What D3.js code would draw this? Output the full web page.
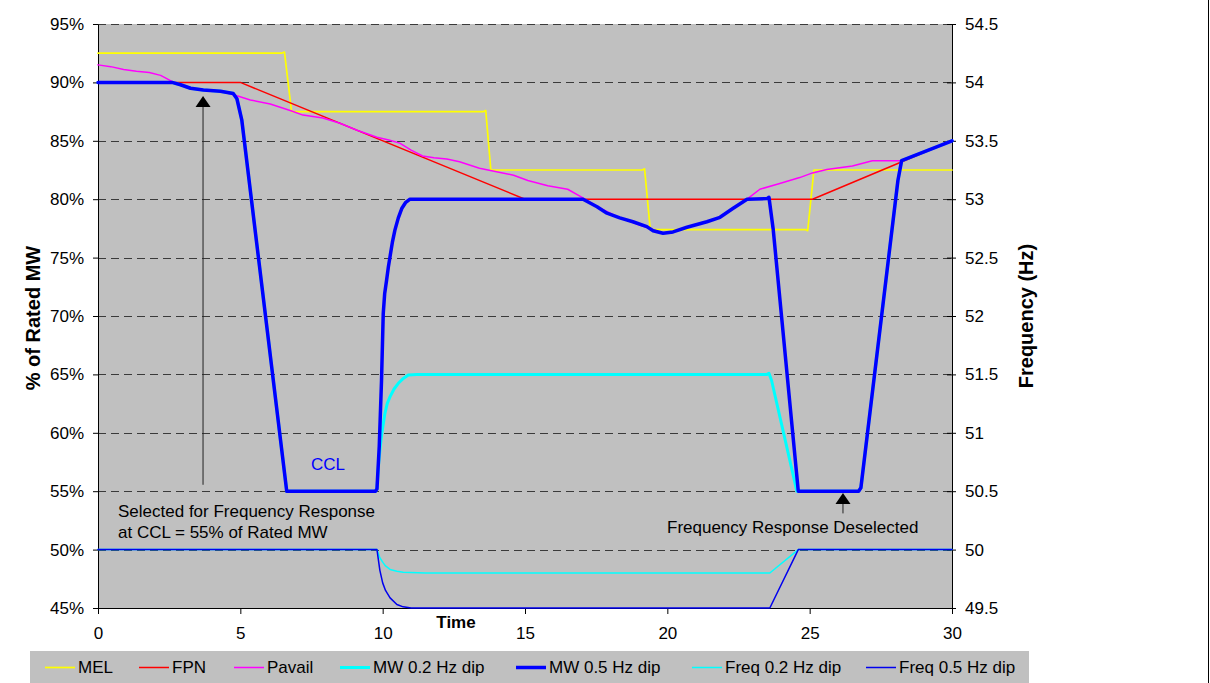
<!DOCTYPE html>
<html>
<head>
<meta charset="utf-8">
<script src="https://cdn.jsdelivr.net/npm/d3@7"></script>
<style>
  html, body { margin: 0; padding: 0; background: #fff; }
  svg { display: block; font-family: "Liberation Sans", Arial, sans-serif; }
</style>
</head>
<body>
<svg id="chart" width="1210" height="683"></svg>
<script>
// ---- data: [time, value] pairs ----
const MEL = [[0,92.5],[6.45,92.5],[6.55,92.6],[6.8,87.5],[13.55,87.5],[13.62,87.6],[13.8,82.5],
  [19.12,82.5],[19.2,82.6],[19.4,77.4],[24.85,77.4],[24.93,77.3],[25.15,82.5],[30,82.5]];

const FPN = [[0,90],[5,90],[15,80],[25.1,80],[30,85]];

const Pavail = [[0,91.5],[0.45,91.35],[0.9,91.1],[1.35,90.95],[1.8,90.85],[2.2,90.6],[2.63,90.05],
  [3.2,89.5],[3.7,89.35],[4.3,89.25],[4.88,88.85],[5.35,88.5],[6.05,88.15],[6.75,87.6],[7.2,87.2],
  [7.9,86.95],[8.5,86.5],[9.1,85.9],[9.8,85.3],[10.25,85.05],[10.6,84.8],[11.0,84.2],[11.4,83.7],
  [11.8,83.55],[12.25,83.45],[12.7,83.2],[13.4,82.65],[14.0,82.35],[14.6,82.05],[15.1,81.6],
  [15.8,81.15],[16.5,80.85],[17.05,80.1],[17.5,79.4],[18.3,78.45],[19.0,77.8],[19.85,77.1],
  [20.2,77.2],[20.7,77.6],[21.4,78.05],[21.85,78.45],[22.3,79.2],[22.8,80],[23.25,80.85],
  [23.95,81.35],[24.65,81.85],[25.1,82.25],[25.6,82.55],[26.5,82.85],[27.2,83.3],[28.2,83.3],[30,85]];

const MW02 = [[0,90],[2.6,90],[2.9,89.8],[3.25,89.5],[3.7,89.35],[4.3,89.25],[4.75,89.05],
  [4.88,88.6],[5.05,86.8],[6.63,55],[9.75,55],[9.8,55.2],[9.86,57.4],[9.92,58.9],[9.97,59.96],
  [10.08,61.67],[10.16,62.5],[10.26,63.1],[10.4,63.75],[10.55,64.24],[10.7,64.6],[10.9,64.95],
  [11.2,65],[23.5,65],[23.57,65.1],[23.66,64.5],[24.55,55],[26.72,55],[26.8,55.3],[28.1,81.6],
  [28.23,83.3],[30,85]];

const MW05 = [[0,90],[2.6,90],[2.9,89.8],[3.25,89.5],[3.7,89.35],[4.3,89.25],[4.75,89.05],
  [4.88,88.6],[5.05,86.8],[6.63,55],[9.75,55],[9.8,55.2],[9.88,58.85],[9.96,64.5],[10.02,70.2],
  [10.07,71.9],[10.14,73.1],[10.2,74.2],[10.26,75.1],[10.34,76.3],[10.43,77.35],[10.55,78.4],
  [10.67,79.2],[10.8,79.7],[10.96,80],[17.04,80],[17.53,79.35],[17.88,78.8],[18.33,78.4],
  [18.79,78.07],[19.28,77.65],[19.5,77.3],[19.85,77.08],[20.2,77.2],[20.69,77.6],[21.39,78.07],
  [21.85,78.45],[22.3,79.2],[22.8,80],[23.5,80.05],[23.57,80.16],[23.72,77.4],[24.6,55],
  [26.72,55],[26.8,55.3],[28.1,81.6],[28.23,83.3],[30,85]];

// frequency series, Hz (right axis)
const Freq02 = [[0,50],[9.8,50],[9.9,49.93],[10.02,49.886],[10.1,49.86],[10.26,49.83],
  [10.5,49.815],[10.72,49.807],[11.5,49.8],[23.6,49.8],[24.6,50],[30,50]];
const Freq05 = [[0,50],[9.8,50],[9.9,49.825],[10.0,49.715],[10.1,49.65],[10.26,49.587],
  [10.5,49.53],[10.72,49.51],[11,49.5],[23.6,49.5],[24.6,50],[30,50]];

const xTicks = [0,5,10,15,20,25,30];
const pctTicks = [45,50,55,60,65,70,75,80,85,90,95];
const hzTicks = [49.5,50,50.5,51,51.5,52,52.5,53,53.5,54,54.5];

const seriesNames = ["MEL","FPN","Pavail","MW 0.2 Hz dip","MW 0.5 Hz dip","Freq 0.2 Hz dip","Freq 0.5 Hz dip"];

// ---- layout ----
const svg = d3.select("#chart");
const L = 98, R = 952, T = 24, B = 608;
const FONT = 17;

const x = d3.scaleLinear().domain([0,30]).range([L,R]);
const yL = d3.scaleLinear().domain([45,95]).range([B,T]);
const yR = d3.scaleLinear().domain([49.5,54.5]).range([B,T]);

// plot area
svg.append("rect").attr("x",L).attr("y",T).attr("width",R-L).attr("height",B-T).attr("fill","#C0C0C0");

// dashed gridlines
svg.append("g").selectAll("line").data(pctTicks.filter(d => d > 45)).join("line")
  .attr("x1",L).attr("x2",R).attr("y1",d => Math.round(yL(d))+0.5).attr("y2",d => Math.round(yL(d))+0.5)
  .attr("stroke","#3a3a3a").attr("stroke-width",1).attr("stroke-dasharray","8,5");

// axes
const gL = svg.append("g").attr("transform",`translate(${L},0)`)
  .call(d3.axisLeft(yL).tickValues(pctTicks).tickFormat(d => d + "%").tickSizeInner(5).tickSizeOuter(0).tickPadding(9));
const gR = svg.append("g").attr("transform",`translate(${R},0)`)
  .call(d3.axisRight(yR).tickValues(hzTicks).tickFormat(d => Number.isInteger(d) ? String(d) : d.toFixed(1)).tickSizeInner(4).tickSizeOuter(0).tickPadding(9));
gR.selectAll(".tick line").attr("x1",-5);
const gB = svg.append("g").attr("transform",`translate(0,${B})`)
  .call(d3.axisBottom(x).tickValues(xTicks).tickFormat(d3.format("d")).tickSizeInner(6).tickSizeOuter(0));
gB.selectAll(".tick text").attr("dy",null).attr("y",31);

[gL,gR,gB].forEach(g => {
  g.selectAll("path.domain").attr("stroke","#000").attr("stroke-width",1);
  g.selectAll(".tick line").attr("stroke","#000");
  g.selectAll("text").attr("font-size",FONT).attr("fill","#000").attr("font-family","Liberation Sans, Arial, sans-serif");
});

// axis titles
svg.append("text").attr("transform","translate(40,318) rotate(-90)").attr("text-anchor","middle")
  .attr("font-size",20).attr("font-weight","bold").text("% of Rated MW");
svg.append("text").attr("transform","translate(1033,316) rotate(-90)").attr("text-anchor","middle")
  .attr("font-size",20).attr("font-weight","bold").text("Frequency (Hz)");
svg.append("text").attr("x",456).attr("y",628).attr("text-anchor","middle")
  .attr("font-size",FONT).attr("font-weight","bold").text("Time");

// series
const line = d3.line().x(d => x(d[0])).y(d => yL(d[1]));
const lineR = d3.line().x(d => x(d[0])).y(d => yR(d[1]));

const series = [
  {data: MEL,    gen: line,  color: "#FFFF00", w: 1.7},
  {data: FPN,    gen: line,  color: "#FF0000", w: 1.5},
  {data: Pavail, gen: line,  color: "#FF00FF", w: 1.5},
  {data: MW02,   gen: line,  color: "#00FFFF", w: 3},
  {data: MW05,   gen: line,  color: "#0000FF", w: 3.5},
  {data: Freq02, gen: lineR, color: "#00FFFF", w: 1.5},
  {data: Freq05, gen: lineR, color: "#0000EE", w: 1.5}
];
const plot = svg.append("g");
series.forEach(s => {
  plot.append("path").attr("d", s.gen(s.data)).attr("fill","none")
    .attr("stroke", s.color).attr("stroke-width", s.w)
    .attr("stroke-linejoin","round").attr("stroke-linecap","round");
});

// annotations
function arrow(t, pTip, pTail) {
  const ax = x(t), tip = yL(pTip), tail = yL(pTail);
  svg.append("line").attr("x1",ax).attr("x2",ax).attr("y1",tail).attr("y2",tip + 10)
    .attr("stroke","#222").attr("stroke-width",1);
  svg.append("path").attr("d",`M${ax},${tip}L${ax-7.5},${tip+11}L${ax+7.5},${tip+11}Z`).attr("fill","#000");
}
arrow(3.69, 88.84, 55.55);
arrow(26.17, 54.85, 53.1);

svg.append("text").attr("x",118).attr("y",517).attr("font-size",FONT).text("Selected for Frequency Response");
svg.append("text").attr("x",118).attr("y",538).attr("font-size",FONT).text("at CCL = 55% of Rated MW");
svg.append("text").attr("x",667).attr("y",533).attr("font-size",FONT).text("Frequency Response Deselected");
svg.append("text").attr("x",311).attr("y",470).attr("font-size",FONT).attr("fill","#0000FF").text("CCL");

// legend
const legendX = [45,139,234,340,516,692,866];
const lg = svg.append("g");
lg.append("rect").attr("x",30).attr("y",651).attr("width",999).attr("height",40).attr("fill","#C0C0C0");
series.forEach((s,i) => {
  lg.append("line").attr("x1",legendX[i]).attr("x2",legendX[i]+30).attr("y1",667.5).attr("y2",667.5)
    .attr("stroke",s.color).attr("stroke-width", s.w);
  lg.append("text").attr("x",legendX[i]+33).attr("y",673).attr("font-size",FONT).text(seriesNames[i]);
});

// outer frame edge on the right
svg.append("line").attr("x1",1208.5).attr("x2",1208.5).attr("y1",0).attr("y2",683).attr("stroke","#000").attr("stroke-width",1);
</script>
</body>
</html>
